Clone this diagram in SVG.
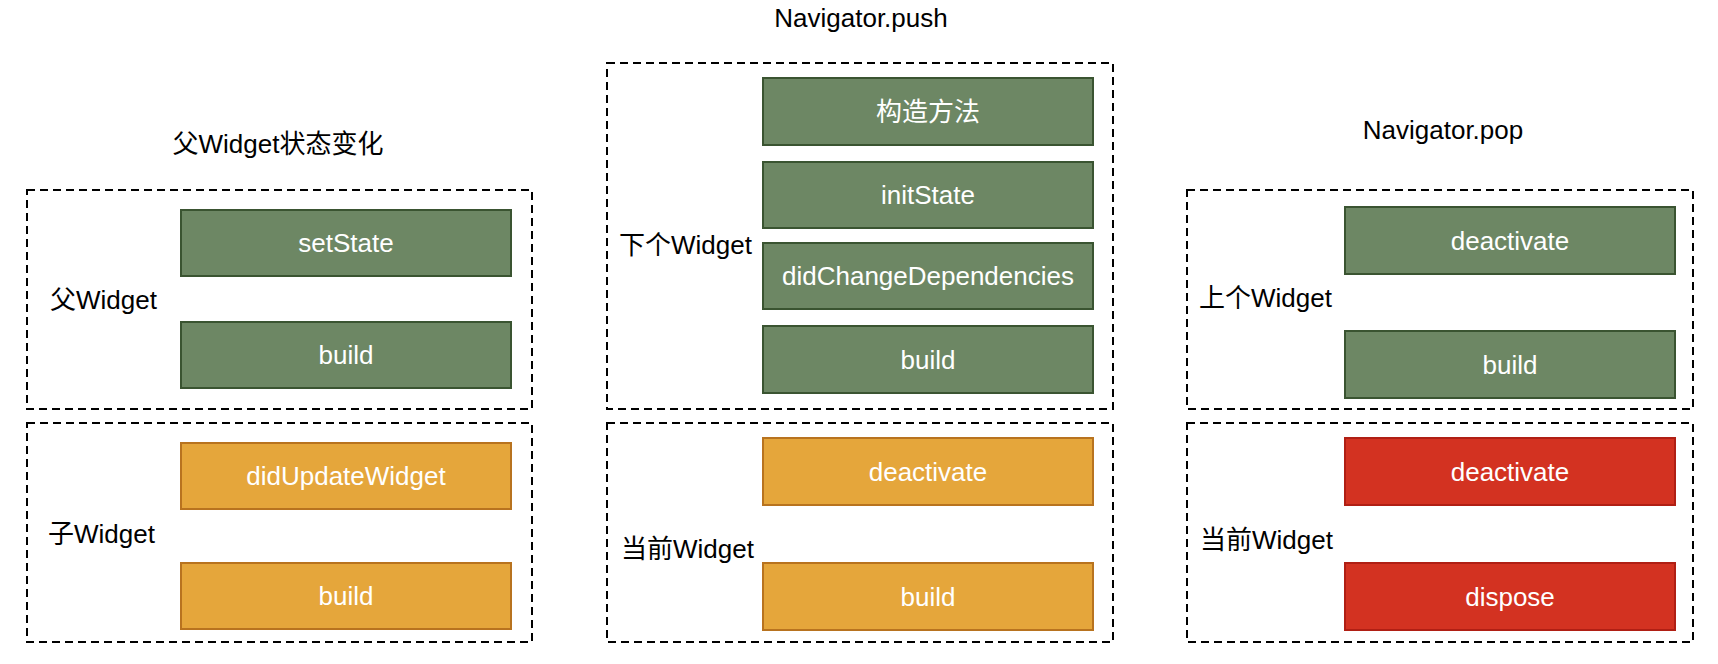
<svg xmlns="http://www.w3.org/2000/svg" width="1718" height="664" viewBox="0 0 1718 664">
<style>
  text { font-family: "Liberation Sans", "Noto Sans CJK SC", sans-serif; font-size: 26px; }
  .title { fill: #000; text-anchor: middle; }
  .lbl { fill: #000; text-anchor: start; }
  .box { fill: #fff; fill-opacity: 0; stroke: #000; stroke-width: 2; stroke-dasharray: 8 5; }
  .green rect { fill: #6d8764; stroke: #3a5431; stroke-width: 2; }
  .orange rect { fill: #e5a63b; stroke: #b8731f; stroke-width: 2; }
  .red rect { fill: #d33221; stroke: #b01f14; stroke-width: 2; }
  .node text { fill: #fff; text-anchor: middle; }
</style>
<rect width="1718" height="664" fill="#fff"/>

<!-- Column 1 -->
<g id="col1">
  <text class="title" x="278" y="153">父Widget状态变化</text>
  <g id="parent-widget">
    <rect class="box" x="27" y="190" width="505" height="219"/>
    <text class="lbl" x="50" y="309">父Widget</text>
  </g>
  <g id="child-widget">
    <rect class="box" x="27" y="423" width="505" height="219"/>
    <text class="lbl" x="48" y="543">子Widget</text>
  </g>
  <g id="c1-setState" class="node green"><rect x="181" y="210" width="330" height="66"/><text x="346" y="252">setState</text></g>
  <g id="c1-build" class="node green"><rect x="181" y="322" width="330" height="66"/><text x="346" y="364">build</text></g>
  <g id="c1-didUpdateWidget" class="node orange"><rect x="181" y="443" width="330" height="66"/><text x="346" y="485">didUpdateWidget</text></g>
  <g id="c1-child-build" class="node orange"><rect x="181" y="563" width="330" height="66"/><text x="346" y="605">build</text></g>
</g>

<!-- Column 2 -->
<g id="col2">
  <text class="title" x="861" y="27">Navigator.push</text>
  <g id="next-widget">
    <rect class="box" x="607" y="63" width="506" height="346"/>
    <text class="lbl" x="619" y="254">下个Widget</text>
  </g>
  <g id="current-widget-push">
    <rect class="box" x="607" y="423" width="506" height="219"/>
    <text class="lbl" x="621" y="558">当前Widget</text>
  </g>
  <g id="c2-constructor" class="node green"><rect x="763" y="78" width="330" height="67"/><text x="928" y="121">构造方法</text></g>
  <g id="c2-initState" class="node green"><rect x="763" y="162" width="330" height="66"/><text x="928" y="204">initState</text></g>
  <g id="c2-didChangeDependencies" class="node green"><rect x="763" y="243" width="330" height="66"/><text x="928" y="285">didChangeDependencies</text></g>
  <g id="c2-build" class="node green"><rect x="763" y="326" width="330" height="67"/><text x="928" y="369">build</text></g>
  <g id="c2-deactivate" class="node orange"><rect x="763" y="438" width="330" height="67"/><text x="928" y="481">deactivate</text></g>
  <g id="c2-current-build" class="node orange"><rect x="763" y="563" width="330" height="67"/><text x="928" y="606">build</text></g>
</g>

<!-- Column 3 -->
<g id="col3">
  <text class="title" x="1443" y="139">Navigator.pop</text>
  <g id="prev-widget">
    <rect class="box" x="1187" y="190" width="506" height="219"/>
    <text class="lbl" x="1199" y="307">上个Widget</text>
  </g>
  <g id="current-widget-pop">
    <rect class="box" x="1187" y="423" width="506" height="219"/>
    <text class="lbl" x="1200" y="549">当前Widget</text>
  </g>
  <g id="c3-deactivate" class="node green"><rect x="1345" y="207" width="330" height="67"/><text x="1510" y="250">deactivate</text></g>
  <g id="c3-build" class="node green"><rect x="1345" y="331" width="330" height="67"/><text x="1510" y="374">build</text></g>
  <g id="c3-current-deactivate" class="node red"><rect x="1345" y="438" width="330" height="67"/><text x="1510" y="481">deactivate</text></g>
  <g id="c3-dispose" class="node red"><rect x="1345" y="563" width="330" height="67"/><text x="1510" y="606">dispose</text></g>
</g>
</svg>
